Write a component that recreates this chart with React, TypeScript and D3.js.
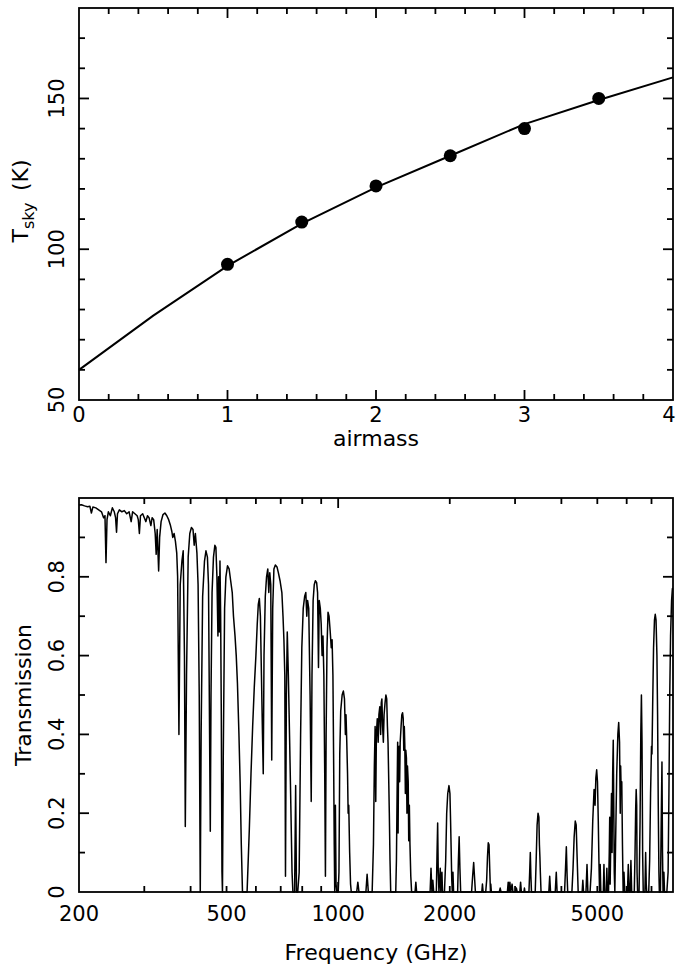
import React, { useEffect, useRef } from 'react'
import { select, scaleLinear, scaleLog, line, range } from 'd3'

// top panel: sky temperature vs airmass
const airmassCurve = [0, 0.5, 1, 1.5, 2, 2.5, 3, 3.5, 4]
const tskyCurve = [60, 78, 94.5, 108.5, 120.5, 131, 141.5, 149.5, 157]
const airmassObs = [1, 1.5, 2, 2.5, 3, 3.5]
const tskyObs = [95, 109, 121, 131, 140, 150]
const airmassTicks = [0, 1, 2, 3, 4]
const tskyTicks = [50, 100, 150]

// bottom panel: atmospheric transmission, [GHz, transmission]
const spectrum: [number, number][] = [
  [200, 0.982], [203, 0.983], [207, 0.98], [211, 0.978], [214, 0.979], [216, 0.962], [218, 0.977], [222, 0.975],
  [226, 0.97], [230, 0.965], [233, 0.95], [235, 0.955], [236.5, 0.836], [238, 0.945], [240, 0.965], [243, 0.955],
  [246, 0.975], [249, 0.965], [251, 0.95], [252.5, 0.913], [254, 0.96], [257, 0.97], [261, 0.965], [265, 0.968],
  [269, 0.96], [273, 0.965], [276.5, 0.94], [279, 0.965], [283, 0.96], [287, 0.955], [289, 0.945], [291, 0.91],
  [293, 0.955], [297, 0.96], [300, 0.95], [303, 0.94], [306, 0.955], [309, 0.95], [312.5, 0.93], [315, 0.95],
  [318, 0.945], [321, 0.91], [323, 0.857], [325, 0.92], [328, 0.815], [330, 0.9], [333, 0.94], [337, 0.958],
  [341, 0.962], [345, 0.955], [349, 0.945], [353, 0.93], [356, 0.915], [358, 0.9], [361, 0.91], [364, 0.89],
  [367, 0.86], [369, 0.8], [372, 0.4], [375, 0.78], [379, 0.84], [382, 0.866], [385, 0.6], [387, 0.166],
  [390, 0.55], [394, 0.85], [398, 0.91], [402, 0.925], [406, 0.92], [409, 0.88], [412, 0.91], [416, 0.86],
  [419, 0.78], [422, 0.5], [424.7, 0], [427, 0.4], [431, 0.75], [436, 0.84], [440, 0.866], [444, 0.85],
  [447, 0.78], [450, 0.4], [452, 0.154], [454, 0.5], [457, 0.76], [461, 0.85], [465, 0.88], [468, 0.875],
  [471, 0.8], [474, 0.65], [476, 0.8], [478, 0.66], [480, 0.84], [482, 0.7], [484, 0.45], [486, 0.05],
  [487.5, 0], [490, 0.35], [494, 0.72], [498, 0.8], [503, 0.828], [508, 0.82], [513, 0.79], [518, 0.76],
  [522, 0.7], [527, 0.65], [531, 0.6], [535, 0.53], [540, 0.4], [544, 0.28], [548, 0.12], [552, 0],
  [568, 0], [572, 0.08], [576, 0.16], [582, 0.3], [588, 0.42], [594, 0.52], [600, 0.6], [605, 0.68],
  [609, 0.73], [613, 0.745], [617, 0.7], [621, 0.55], [625, 0.4], [628, 0.3], [631, 0.6], [636, 0.75],
  [641, 0.8], [646, 0.82], [650, 0.76], [654, 0.81], [658, 0.78], [662, 0.335], [666, 0.72], [671, 0.82],
  [677, 0.83], [684, 0.825], [690, 0.81], [697, 0.79], [705, 0.76], [710, 0.7], [714, 0.64], [718, 0.55],
  [721, 0.04], [725, 0.5], [729, 0.66], [734, 0.55], [740, 0.38], [746, 0.2], [751, 0.05], [755, 0],
  [763, 0], [768, 0.27], [772, 0], [778, 0], [785, 0.05], [792, 0.4], [798, 0.62], [805, 0.72],
  [812, 0.75], [818, 0.76], [823, 0.7], [827, 0.74], [833, 0.72], [840, 0.5], [846, 0.23], [850, 0.55],
  [856, 0.74], [862, 0.78], [868, 0.79], [875, 0.785], [880, 0.76], [885, 0.57], [889, 0.74], [895, 0.72],
  [900, 0.68], [905, 0.6], [910, 0.65], [915, 0.55], [920, 0.3], [924, 0.04], [928, 0.4], [933, 0.62],
  [939, 0.71], [945, 0.7], [952, 0.66], [958, 0.62], [963, 0.64], [968, 0.55], [972, 0.35], [976, 0.12],
  [979, 0], [983, 0.22], [987, 0.02], [992, 0], [1000, 0], [1005, 0.05], [1010, 0.35], [1016, 0.46],
  [1025, 0.5], [1033, 0.51], [1040, 0.49], [1046, 0.4], [1050, 0.45], [1055, 0.38], [1060, 0.3], [1064, 0.2],
  [1068, 0.22], [1074, 0.1], [1080, 0.02], [1085, 0], [1122, 0], [1130, 0.025], [1138, 0], [1188, 0],
  [1197, 0.045], [1206, 0], [1235, 0], [1245, 0.12], [1252, 0.32], [1258, 0.42], [1263, 0.23], [1268, 0.4],
  [1275, 0.44], [1282, 0.38], [1288, 0.45], [1295, 0.47], [1302, 0.4], [1307, 0.48], [1312, 0.49], [1318, 0.42],
  [1324, 0.38], [1330, 0.45], [1338, 0.48], [1345, 0.5], [1352, 0.49], [1358, 0.42], [1363, 0.38], [1368, 0.3],
  [1374, 0.2], [1380, 0.08], [1386, 0], [1430, 0], [1436, 0.08], [1442, 0.25], [1447, 0.38], [1451, 0.15],
  [1455, 0.33], [1460, 0.37], [1465, 0.28], [1470, 0.38], [1478, 0.42], [1485, 0.45], [1492, 0.455], [1498, 0.44],
  [1503, 0.36], [1508, 0.42], [1513, 0.37], [1518, 0.25], [1522, 0.36], [1528, 0.34], [1533, 0.2], [1538, 0.32],
  [1545, 0.28], [1550, 0.13], [1556, 0.22], [1562, 0.12], [1570, 0.04], [1578, 0], [1612, 0], [1620, 0.025],
  [1628, 0], [1770, 0], [1780, 0.06], [1790, 0], [1800, 0.03], [1810, 0], [1840, 0], [1848, 0.1],
  [1855, 0.175], [1862, 0.05], [1870, 0], [1885, 0.06], [1892, 0], [1905, 0.05], [1912, 0], [1935, 0],
  [1950, 0.08], [1962, 0.2], [1975, 0.25], [1990, 0.27], [2002, 0.25], [2010, 0.18], [2018, 0.1], [2025, 0.03],
  [2032, 0], [2040, 0.05], [2048, 0], [2100, 0], [2110, 0.08], [2120, 0.14], [2130, 0.06], [2140, 0],
  [2290, 0], [2305, 0.04], [2320, 0.075], [2335, 0.03], [2345, 0], [2440, 0], [2450, 0.02], [2460, 0],
  [2500, 0], [2515, 0.03], [2528, 0.09], [2540, 0.125], [2552, 0.12], [2565, 0.05], [2575, 0], [2580, 0.02],
  [2590, 0], [2720, 0], [2735, 0.01], [2750, 0], [2860, 0], [2875, 0.025], [2890, 0], [2905, 0.025],
  [2920, 0], [2945, 0.02], [2960, 0], [3010, 0], [3025, 0.01], [3040, 0], [3090, 0], [3105, 0.025],
  [3120, 0], [3170, 0], [3180, 0.01], [3190, 0], [3270, 0], [3285, 0.05], [3298, 0.1], [3310, 0.04],
  [3322, 0], [3400, 0], [3420, 0.08], [3440, 0.17], [3460, 0.2], [3478, 0.19], [3490, 0.12], [3500, 0.09],
  [3510, 0.05], [3525, 0], [3700, 0], [3720, 0.04], [3740, 0], [3850, 0], [3875, 0.05], [3895, 0],
  [4080, 0], [4100, 0.05], [4125, 0.115], [4145, 0.04], [4160, 0], [4270, 0], [4300, 0.06], [4330, 0.14],
  [4360, 0.18], [4385, 0.17], [4410, 0.09], [4440, 0], [4550, 0], [4570, 0.03], [4590, 0], [4660, 0],
  [4690, 0.07], [4715, 0], [4780, 0], [4820, 0.06], [4860, 0.18], [4900, 0.26], [4930, 0.22], [4955, 0.29],
  [4980, 0.31], [5005, 0.28], [5030, 0.18], [5050, 0.08], [5070, 0], [5090, 0.07], [5110, 0], [5190, 0],
  [5210, 0.07], [5230, 0], [5280, 0], [5305, 0.06], [5325, 0], [5360, 0], [5385, 0.1], [5400, 0.19],
  [5415, 0.02], [5440, 0.15], [5460, 0.25], [5480, 0.1], [5500, 0.3], [5520, 0.385], [5540, 0.2], [5555, 0.05],
  [5575, 0], [5600, 0.12], [5640, 0.3], [5680, 0.4], [5710, 0.43], [5740, 0.38], [5765, 0.2], [5780, 0.32],
  [5800, 0.25], [5820, 0.28], [5845, 0.12], [5870, 0], [5900, 0.05], [5930, 0], [6030, 0], [6060, 0.07],
  [6090, 0], [6130, 0], [6160, 0.08], [6190, 0], [6290, 0], [6320, 0.1], [6345, 0.21], [6365, 0.26],
  [6385, 0.22], [6400, 0.05], [6420, 0], [6480, 0], [6520, 0.18], [6550, 0.4], [6575, 0.5], [6600, 0.38],
  [6625, 0.1], [6650, 0], [6720, 0], [6750, 0.1], [6775, 0.02], [6795, 0], [6880, 0], [6920, 0.08],
  [6960, 0.25], [7000, 0.37], [7020, 0.35], [7050, 0.47], [7090, 0.62], [7130, 0.69], [7165, 0.705], [7200, 0.69],
  [7240, 0.6], [7270, 0.45], [7300, 0.22], [7330, 0.05], [7350, 0], [7400, 0], [7430, 0.15], [7470, 0.33],
  [7495, 0.1], [7520, 0], [7560, 0.05], [7590, 0], [7700, 0], [7760, 0.05], [7800, 0.25], [7840, 0.5],
  [7880, 0.65], [7930, 0.74], [7970, 0.77], [8000, 0.77],
]
const freqTicks = [200, 500, 1000, 2000, 5000]
const freqMinor = [300, 400, 500, 600, 700, 800, 900, 2000, 3000, 4000, 5000, 6000, 7000]
const transTicks = [0, 0.2, 0.4, 0.6, 0.8]

const FONT = '"DejaVu Sans", sans-serif'
const L = 79, R = 673

// PGPLOT-like box: frame plus inward ticks on all four sides
function drawBox(g, x, y, xMaj, xMin, yMaj, yMin) {
  const [y0, y1] = y.range()
  g.append('rect').attr('x', L).attr('y', y1).attr('width', R - L).attr('height', y0 - y1)
    .attr('fill', 'none').attr('stroke', '#000').attr('stroke-width', 1.8)
  const tick = (v, len) => {
    const px = x(v)
    g.append('line').attr('x1', px).attr('x2', px).attr('y1', y0).attr('y2', y0 - len)
    g.append('line').attr('x1', px).attr('x2', px).attr('y1', y1).attr('y2', y1 + len)
  }
  const ytick = (v, len) => {
    const py = y(v)
    g.append('line').attr('x1', L).attr('x2', L + len).attr('y1', py).attr('y2', py)
    g.append('line').attr('x1', R).attr('x2', R - len).attr('y1', py).attr('y2', py)
  }
  xMin.forEach(v => tick(v, 6))
  xMaj.forEach(v => tick(v, 10))
  yMin.forEach(v => ytick(v, 6))
  yMaj.forEach(v => ytick(v, 10))
  g.selectAll('line').attr('stroke', '#000').attr('stroke-width', 1.8)
}

const App = () => {
  const svgRef = useRef(null)

  useEffect(() => {
    const svg = select(svgRef.current)
    svg.selectAll('*').remove()

    // ---- top panel
    const x1 = scaleLinear().domain([0, 4]).range([L, R])
    const y1 = scaleLinear().domain([50, 180]).range([400, 8])
    const top = svg.append('g')
    drawBox(top, x1, y1,
      [1, 2, 3],
      range(1, 20).filter(i => i % 5 !== 0).map(i => i * 0.2),
      [100, 150],
      range(60, 180, 10).filter(v => v % 50 !== 0))

    const curve = line<number>().x((d, i) => x1(airmassCurve[i])).y(d => y1(d))
    top.append('path').attr('d', curve(tskyCurve))
      .attr('fill', 'none').attr('stroke', '#000').attr('stroke-width', 2)
    top.selectAll('circle.obs').data(tskyObs).join('circle')
      .attr('cx', (d, i) => x1(airmassObs[i])).attr('cy', d => y1(d)).attr('r', 6.5).attr('fill', '#000')

    // last label is nudged in so it stays on the page
    top.selectAll('text.xt').data(airmassTicks).join('text')
      .attr('x', d => Math.min(x1(d), 669)).attr('y', 422).attr('text-anchor', 'middle')
      .attr('font-size', 21).text(d => d)
    top.selectAll('text.yt').data(tskyTicks).join('text')
      .attr('transform', d => `translate(64,${y1(d)}) rotate(-90)`).attr('text-anchor', 'middle')
      .attr('font-size', 21).text(d => d)
    top.append('text').attr('x', (L + R) / 2).attr('y', 446).attr('text-anchor', 'middle')
      .attr('font-size', 22).text('airmass')
    const tl = top.append('text').attr('transform', `translate(28,${y1(116)}) rotate(-90)`)
      .attr('text-anchor', 'middle').attr('font-size', 22)
    tl.append('tspan').text('T')
    tl.append('tspan').attr('dy', 6).attr('font-size', 16).text('sky')
    tl.append('tspan').attr('dy', -6).text('\u2009 (K)')

    // ---- bottom panel
    const x2 = scaleLog().domain([200, 8000]).range([L, R])
    const y2 = scaleLinear().domain([0, 1]).range([892, 498])
    const bot = svg.append('g')
    drawBox(bot, x2, y2, [1000], freqMinor, transTicks.slice(1),
      range(1, 10).filter(i => i % 2 === 1).map(i => i / 10))

    const specLine = line<[number, number]>().x(d => x2(d[0])).y(d => y2(d[1]))
    bot.append('path').attr('d', specLine(spectrum))
      .attr('fill', 'none').attr('stroke', '#000').attr('stroke-width', 1.5).attr('stroke-linejoin', 'round')

    bot.selectAll('text.xt').data(freqTicks).join('text')
      .attr('x', d => x2(d)).attr('y', 921).attr('text-anchor', 'middle')
      .attr('font-size', 21).text(d => d)
    bot.selectAll('text.yt').data(transTicks).join('text')
      .attr('transform', d => `translate(64,${y2(d)}) rotate(-90)`).attr('text-anchor', 'middle')
      .attr('font-size', 21).text(d => d)
    bot.append('text').attr('x', (L + R) / 2).attr('y', 960).attr('text-anchor', 'middle')
      .attr('font-size', 22).text('Frequency (GHz)')
    bot.append('text').attr('transform', `translate(31,${(498 + 892) / 2}) rotate(-90)`)
      .attr('text-anchor', 'middle').attr('font-size', 22).text('Transmission')

    svg.selectAll('text').attr('font-family', FONT).attr('fill', '#000')
  }, [])

  return (
    <svg ref={svgRef} width={677} height={971}
      style={{ position: 'absolute', left: 0, top: 0, background: '#fff' }} />
  )
}

export default App
